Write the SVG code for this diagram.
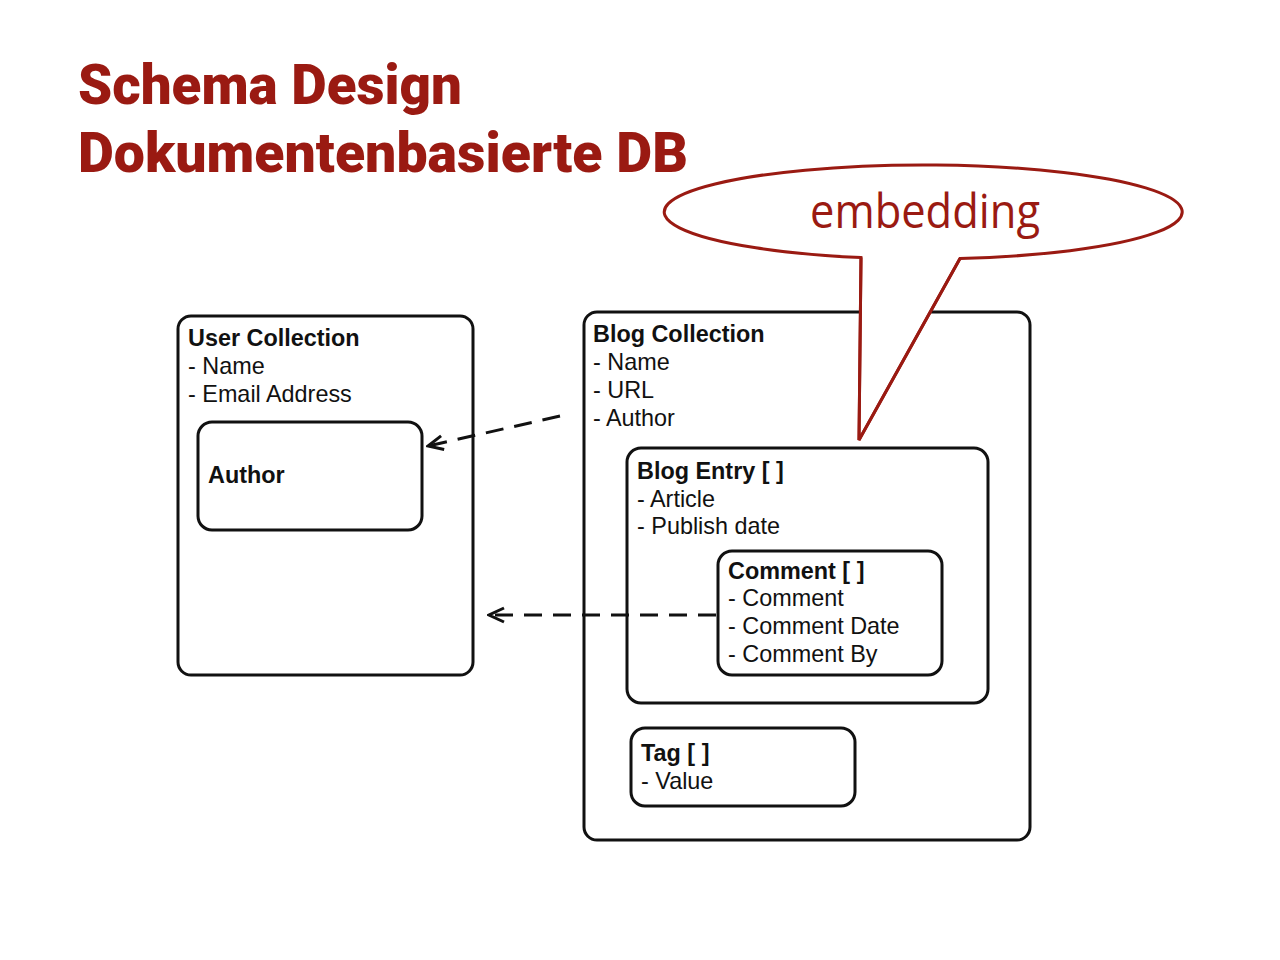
<svg xmlns="http://www.w3.org/2000/svg" width="1280" height="960" viewBox="0 0 1280 960">
<defs>
<style>
.title{font-family:Roboto,"Liberation Sans",sans-serif;font-weight:900;font-size:55px;fill:#9a1a12}
.box{fill:none;stroke:#111;stroke-width:3}
.h{font-family:"Liberation Sans",Arial,sans-serif;font-weight:bold;font-size:23.4px;fill:#111}
.t{font-family:"Liberation Sans",Arial,sans-serif;font-size:23.4px;fill:#111}
.dash{fill:none;stroke:#111;stroke-width:3;stroke-dasharray:18 11}
.callout{fill:#fff;stroke:#9a1a12;stroke-width:3}
.emb{font-family:"Open Sans","Noto Sans",sans-serif;font-weight:400;font-size:48px;fill:#9a1a12}
</style>
<marker id="arr" viewBox="0 0 20 20" refX="18" refY="10" markerWidth="20" markerHeight="20" markerUnits="userSpaceOnUse" orient="auto">
<path d="M3 3 L18 10 L3 17" fill="none" stroke="#111" stroke-width="3"/>
</marker>
</defs>
<rect width="1280" height="960" fill="#fff"/>
<g id="title">
<text class="title" x="78" y="104" textLength="384" lengthAdjust="spacingAndGlyphs">Schema Design</text>
<text class="title" x="78" y="172" textLength="610" lengthAdjust="spacingAndGlyphs">Dokumentenbasierte DB</text>
</g>
<g id="user-collection">
<rect class="box" x="178" y="316" width="295" height="359" rx="13"/>
<text class="h" x="188" y="346">User Collection</text>
<text class="t" x="188" y="374">- Name</text>
<text class="t" x="188" y="402">- Email Address</text>
</g>
<g id="author">
<rect class="box" x="198" y="422" width="224" height="108" rx="14"/>
<text class="h" x="208" y="483">Author</text>
</g>
<g id="blog-collection">
<rect class="box" x="584" y="312" width="446" height="528" rx="13"/>
<text class="h" x="593" y="342">Blog Collection</text>
<text class="t" x="593" y="370">- Name</text>
<text class="t" x="593" y="398">- URL</text>
<text class="t" x="593" y="426">- Author</text>
</g>
<g id="blog-entry">
<rect class="box" x="627" y="448" width="361" height="255" rx="14"/>
<text class="h" x="637" y="479">Blog Entry [ ]</text>
<text class="t" x="637" y="507">- Article</text>
<text class="t" x="637" y="534">- Publish date</text>
</g>
<g id="comment">
<rect class="box" x="718" y="551" width="224" height="124" rx="14"/>
<text class="h" x="728" y="579">Comment [ ]</text>
<text class="t" x="728" y="606">- Comment</text>
<text class="t" x="728" y="634">- Comment Date</text>
<text class="t" x="728" y="662">- Comment By</text>
</g>
<g id="tag">
<rect class="box" x="631" y="728" width="224" height="78" rx="14"/>
<text class="h" x="641" y="761">Tag [ ]</text>
<text class="t" x="641" y="789">- Value</text>
</g>
<g id="connectors">
<path class="dash" d="M560 416 L428 446" marker-end="url(#arr)"/>
<path class="dash" d="M716 615 L489 615" marker-end="url(#arr)"/>
</g>
<g id="embedding-callout">
<path class="callout" d="M861 257.6 A259 47 0 1 1 960 258.5 L859 440 Z"/>
<path d="M861 257.6 L859 440 L960 258.5" fill="none" stroke="#9a1a12" stroke-width="3"/>
<text class="emb" x="925" y="228" text-anchor="middle" textLength="230" lengthAdjust="spacingAndGlyphs">embedding</text>
</g>
</svg>
